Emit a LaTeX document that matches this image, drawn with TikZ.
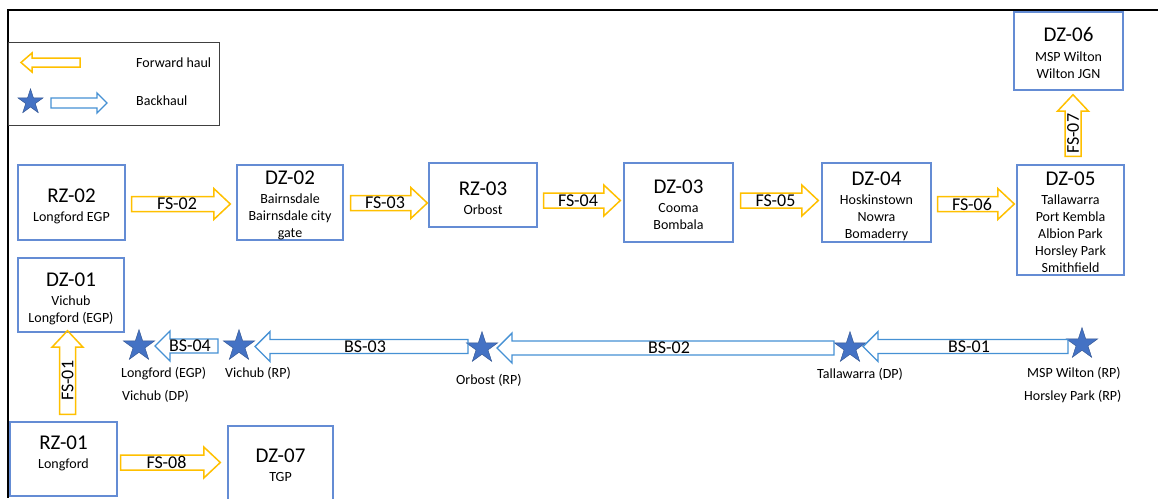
\documentclass[tikz,border=0pt]{standalone}
\usepackage{fontspec}
\setmainfont{Carlito}
\usetikzlibrary{shapes.geometric,calc}
\definecolor{boxblue}{RGB}{100,140,212}
\definecolor{gold}{RGB}{255,192,0}
\definecolor{bkblue}{RGB}{70,145,212}
\definecolor{starfill}{RGB}{68,114,196}
\definecolor{stardraw}{RGB}{47,82,143}
\definecolor{legline}{RGB}{64,64,64}
\newcommand\ttlfont{\fontsize{21}{21}\selectfont}
\newcommand\smlfont{\fontsize{14}{17}\selectfont}
\newcommand\arrfont{\fontsize{18}{18}\selectfont}
% rightward forward-haul block arrow: from, gap, to, gap, y, label
\newcommand\fsright[6]{%
  \draw[fwd] let \p1=(#1.east), \p2=(#3.west), \n1={\x1+(#2)}, \n2={\x2-(#4)},
      \n3={(\n1+\n2)/2-4} in
    (\n1,-#5+7.5) -- (\n2-16.5,-#5+7.5) -- (\n2-16.5,-#5+15.5) -- (\n2,-#5)
    -- (\n2-16.5,-#5-15.5) -- (\n2-16.5,-#5-7.5) -- (\n1,-#5-7.5) -- cycle
    node[arrlabel] at (\n3,-#5) {#6};}
% upward forward-haul block arrow: from (lower), gap, to (upper), gap, x, label
\newcommand\fsup[6]{%
  \draw[fwd] let \p1=(#1.north), \p2=(#3.south), \n1={\y1+(#2)}, \n2={\y2-(#4)},
      \n3={(\n1+\n2-16.5)/2} in
    (#5-8,\n1) -- (#5-8,\n2-16.5) -- (#5-15.5,\n2-16.5) -- (#5,\n2)
    -- (#5+15.5,\n2-16.5) -- (#5+8,\n2-16.5) -- (#5+8,\n1) -- cycle
    node[arrlabel,rotate=90] at (#5,\n3) {#6};}
% leftward backhaul block arrow: from (right star), offset, to (left star), offset, y, label
\newcommand\bsleft[6]{%
  \draw[bkw] let \p1=(#1.center), \p2=(#3.center), \n1={\x1-(#2)}, \n2={\x2+(#4)},
      \n3={(\n1+\n2+15)/2-4} in
    (\n1,-#5+7) -- (\n2+15,-#5+7) -- (\n2+15,-#5+15) -- (\n2,-#5)
    -- (\n2+15,-#5-15) -- (\n2+15,-#5-7) -- (\n1,-#5-7) -- cycle
    node[arrlabel] at (\n3,-#5) {#6};}
\begin{document}
\begin{tikzpicture}[x=1pt,y=1pt,
  zone/.style={draw=boxblue, line width=1.4, inner sep=0},
  zonetext/.style={font=\smlfont, align=center, anchor=north, inner sep=0},
  fwd/.style={draw=gold, line width=1.5, line join=miter},
  bkw/.style={draw=bkblue, line width=1.4, line join=miter},
  arrlabel/.style={font=\arrfont, inner sep=0},
  starpt/.style={star, star points=5, star point ratio=2.618, minimum size=33,
    inner sep=0, fill=starfill, draw=stardraw, line width=0.4},
  ptlabel/.style={font=\smlfont, inner sep=0, anchor=base west},
  legtext/.style={font=\smlfont, inner sep=0, anchor=base west},
]
\useasboundingbox (0,0) rectangle (1158,-498);
\clip (0,0) rectangle (1158,-498);
\fill[white] (0,0) rectangle (1158,-498);
\draw[line width=2.2] (1158,-10) -- (8,-10) -- (8,-498);

% legend
\node[draw=legline, line width=1, minimum width=211, minimum height=83, inner sep=0] (legend) at (113.5,-84) {};
\draw[fwd] (80,-58) -- (32,-58) -- (32,-53) -- (21,-62.5) -- (32,-72) -- (32,-67) -- (80,-67) -- cycle;
\node[legtext] (legfwd) at (136,-67.7) {Forward haul};
\node[starpt, minimum size=26.5] (legstar) at (30.5,-102) {};
\draw[bkw] (51,-98) -- (97,-98) -- (97,-93) -- (107,-103) -- (97,-113) -- (97,-108) -- (51,-108) -- cycle;
\node[legtext] (legbk) at (136,-105.7) {Backhaul};

% zones
\node[zone, minimum width=107, minimum height=75] (rz02) at (71.5,-202.5) {};
\node[zonetext] (rz02t) at (71.5,-188.2) {{\ttlfont RZ-02}\\[2.5pt]Longford EGP};
\node[zone, minimum width=106, minimum height=75] (dz02) at (290,-202.5) {};
\node[zonetext] (dz02t) at (290,-170.2) {{\ttlfont DZ-02}\\[2.5pt]Bairnsdale\\Bairnsdale city\\gate};
\node[zone, minimum width=108, minimum height=64] (rz03) at (483,-195) {};
\node[zonetext] (rz03t) at (483,-181.2) {{\ttlfont RZ-03}\\[2.5pt]Orbost};
\node[zone, minimum width=109, minimum height=79] (dz03) at (678.5,-202.5) {};
\node[zonetext] (dz03t) at (678.5,-179.2) {{\ttlfont DZ-03}\\[2.5pt]Cooma\\Bombala};
\node[zone, minimum width=109, minimum height=79] (dz04) at (876.5,-202.5) {};
\node[zonetext] (dz04t) at (876.5,-171.2) {{\ttlfont DZ-04}\\[2.5pt]Hoskinstown\\Nowra\\Bomaderry};
\node[zone, minimum width=107, minimum height=110] (dz05) at (1070.5,-220) {};
\node[zonetext] (dz05t) at (1070.5,-171.2) {{\ttlfont DZ-05}\\[2.5pt]Tallawarra\\Port Kembla\\Albion Park\\Horsley Park\\Smithfield};
\node[zone, minimum width=109, minimum height=78] (dz06) at (1068.5,-51) {};
\node[zonetext] (dz06t) at (1068.5,-27.2) {{\ttlfont DZ-06}\\[2.5pt]MSP Wilton\\Wilton JGN};
\node[zone, minimum width=106, minimum height=74] (dz01) at (71,-295) {};
\node[zonetext] (dz01t) at (71,-272.2) {{\ttlfont DZ-01}\\[2.5pt]Vichub\\Longford (EGP)};
\node[zone, minimum width=107, minimum height=74] (rz01) at (63.5,-459) {};
\node[zonetext] (rz01t) at (63.5,-435.2) {{\ttlfont RZ-01}\\[2.5pt]Longford};
\node[zone, minimum width=105, minimum height=78] (dz07) at (280.5,-465) {};
\node[zonetext] (dz07t) at (280.5,-448.2) {{\ttlfont DZ-07}\\[2.5pt]TGP};

% forward haul
\fsright{rz02}{6}{dz02}{6}{204}{FS-02}
\fsright{dz02}{7}{rz03}{1}{203}{FS-03}
\fsright{rz03}{6}{dz03}{3}{200.5}{FS-04}
\fsright{dz03}{7}{dz04}{3}{200.5}{FS-05}
\fsright{dz04}{6}{dz05}{2}{204}{FS-06}
\fsright{rz01}{3}{dz07}{7}{462.5}{FS-08}
\fsup{dz05}{8}{dz06}{4}{1073}{FS-07}
\fsup{rz01}{7}{dz01}{-2}{67.5}{FS-01}

% backhaul points
\node[starpt] (s1) at (139,-346) {};
\node[starpt] (s2) at (239,-346) {};
\node[starpt] (s3) at (482,-348) {};
\node[starpt] (s4) at (850,-348) {};
\node[starpt] (s5) at (1082,-344) {};

\bsleft{s5}{14}{s4}{13}{346.5}{BS-01}
\bsleft{s4}{16}{s3}{15}{348}{BS-02}
\bsleft{s3}{14}{s2}{16}{346.5}{BS-03}
\bsleft{s2}{21}{s1}{16}{346}{BS-04}

\node[ptlabel] (l1a) at (121,-377.7) {Longford (EGP)};
\node[ptlabel] (l1b) at (122,-400.5) {Vichub (DP)};
\node[ptlabel] (l2) at (225,-377.7) {Vichub (RP)};
\node[ptlabel] (l3) at (456,-384.5) {Orbost (RP)};
\node[ptlabel] (l4) at (817,-378.3) {Tallawarra (DP)};
\node[ptlabel] (l5a) at (1027,-377) {MSP Wilton (RP)};
\node[ptlabel] (l5b) at (1024,-400) {Horsley Park (RP)};
\end{tikzpicture}
\end{document}
